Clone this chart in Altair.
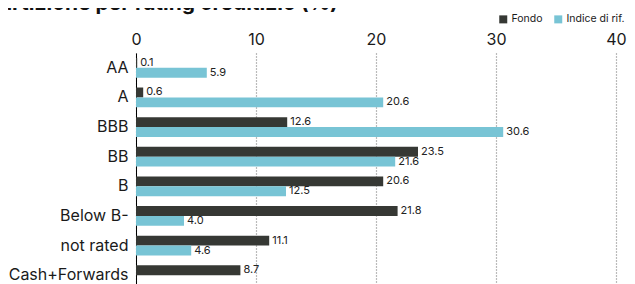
import altair as alt
import pandas as pd

categories = ["AA", "A", "BBB", "BB", "B", "Below B-", "not rated", "Cash+Forwards"]
fondo = [0.1, 0.6, 12.6, 23.5, 20.6, 21.8, 11.1, 8.7]
indice = [5.9, 20.6, 30.6, 21.6, 12.5, 4.0, 4.6, None]
series = ["Fondo", "Indice di rif."]
colors = ["#363834", "#78c4d5"]
x_ticks = [0, 10, 20, 30, 40]
title_text = "Ripartizione per rating creditizio (%)"

rows = []
for c, f, i in zip(categories, fondo, indice):
    if f is not None:
        rows.append({"cat": c, "serie": series[0], "val": f})
    if i is not None:
        rows.append({"cat": c, "serie": series[1], "val": i})
df = pd.DataFrame(rows)

FONT = "Inter"

y_enc = alt.Y(
    "cat:N",
    sort=categories,
    scale=alt.Scale(paddingInner=0.33, paddingOuter=0.165),
    axis=alt.Axis(
        title=None, labelFontSize=16, labelColor="#1a1a1a", labelPadding=8,
        ticks=False, domain=True, domainColor="#000000", domainWidth=1,
        grid=False, labelFont=FONT,
    ),
)
x_enc = alt.X(
    "val:Q",
    scale=alt.Scale(domain=[0, 40], nice=False),
    axis=alt.Axis(
        orient="top", title=None, values=x_ticks, labelFontSize=16,
        labelColor="#1a1a1a", labelPadding=6, ticks=False, tickSize=0,
        domain=False, grid=True, gridDash=[1, 2], gridColor="#777777",
        gridWidth=1.2, labelFont=FONT, format="d", labelFlush=False,
    ),
)
yoff = alt.YOffset("serie:N", sort=series, scale=alt.Scale(paddingInner=0, paddingOuter=0))

bars = alt.Chart(df).mark_bar().encode(
    x=x_enc,
    y=y_enc,
    yOffset=yoff,
    color=alt.Color(
        "serie:N",
        scale=alt.Scale(domain=series, range=colors),
        legend=alt.Legend(
            title=None, orient="none", legendX=362, legendY=-39,
            direction="horizontal", symbolType="square", symbolSize=64,
            symbolStrokeWidth=0, labelFontSize=10.5, labelFont=FONT,
            labelColor="#1a1a1a", labelOffset=3, columnPadding=10, padding=0,
        ),
    ),
)

labels = alt.Chart(df).mark_text(
    align="left", baseline="middle", dx=3, fontSize=11, font=FONT, color="#222222"
).encode(
    x="val:Q",
    y=alt.Y("cat:N", sort=categories),
    yOffset=alt.YOffset("serie:N", sort=series),
    text=alt.Text("val:Q", format=".1f"),
)

title = alt.Chart(pd.DataFrame({"t": [title_text]})).mark_text(
    align="right", baseline="alphabetic", fontSize=21, fontWeight="bold",
    font=FONT, color="#111111",
).encode(x=alt.value(202), y=alt.value(-43), text="t:N")

chart = alt.layer(bars, labels, title).properties(
    width=480,
    height=237,
    autosize=alt.AutoSizeParams(type="none"),
    padding={"left": 128, "top": 45, "right": 11, "bottom": 0},
).configure_view(stroke=None)

chart.save("out.html", embed_options={"renderer": "svg", "actions": False})
